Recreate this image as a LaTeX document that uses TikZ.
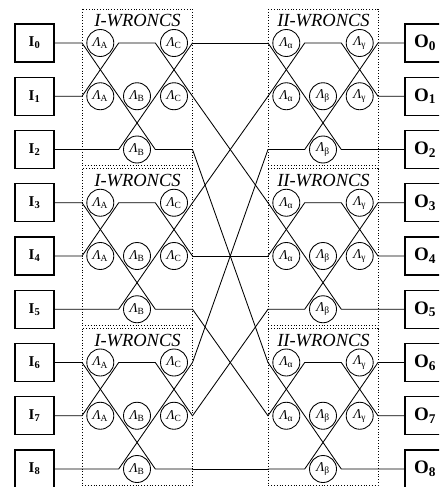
\documentclass[tikz,border=0pt]{standalone}
\usepackage{fontspec}
\setmainfont{Liberation Serif}
\usetikzlibrary{calc}
\newcommand\lamlab[1]{\textit{Λ}\textsubscript{#1}}
\begin{document}
\begin{tikzpicture}[x=1pt,y=-1pt,
  wire/.style={line width=0.85pt, line cap=round, line join=round},
  ibox/.style={draw, line width=1.2pt, minimum width=39pt, minimum height=38pt, inner sep=0pt,
    font=\fontsize{15}{15}\selectfont\bfseries},
  obox/.style={draw, line width=1.2pt, minimum width=40pt, minimum height=38pt, inner sep=0pt,
    font=\fontsize{19}{19}\selectfont\bfseries},
  lam/.style={draw, circle, line width=0.85pt, minimum size=27pt, inner sep=0pt,
    font=\fontsize{13.5}{13.5}\selectfont},
  blk/.style={draw, dotted, line width=0.8pt},
  ttl/.style={font=\fontsize{18.5}{18.5}\selectfont\itshape, inner sep=0pt}]
\useasboundingbox (0,0) rectangle (439,487);
\clip (0,0) rectangle (439,487);
\foreach \i in {0,...,8}{
  \pgfmathsetmacro\y{43+53.25*\i}
  \node[ibox] (I\i) at (34.5,\y) {I\textsubscript{\i}};
  \node[obox] (O\i) at (425,\y) {O\textsubscript{\i}};
  \foreach \n/\x in {L0/82,L1/118.7,L2/155.3,L3/192.5,R0/268,R1/304.7,R2/341.3,R3/378}
    \coordinate (\n-\i) at (\x,\y);
}
\foreach \k in {0,1,2}{
  \pgfmathtruncatemacro\a{3*\k}
  \pgfmathtruncatemacro\b{3*\k+1}
  \pgfmathtruncatemacro\c{3*\k+2}
  \pgfmathsetmacro\ya{43+53.25*\a}
  \pgfmathsetmacro\yb{43+53.25*\b}
  \pgfmathsetmacro\yc{43+53.25*\c}
  % first stage wires
  \draw[wire] (I\a.east) -- (L0-\a) -- (L2-\c) -- (L3-\c);
  \draw[wire] (I\b.east) -- (L0-\b) -- (L1-\a) -- (L2-\a) -- (L3-\b);
  \draw[wire] (I\c.east) -- (L1-\c) -- (L3-\a);
  % second stage wires
  \draw[wire] (R0-\a) -- (R2-\c) -- (O\c.west);
  \draw[wire] (R0-\b) -- (R1-\a) -- (R2-\a) -- (R3-\b) -- (O\b.west);
  \draw[wire] (R0-\c) -- (R1-\c) -- (R3-\a) -- (O\a.west);
  % blocks
  \draw[blk] (82,\ya-34) rectangle (192.5,\yc+16);
  \draw[blk] (268,\ya-34) rectangle (378,\yc+16);
  \node[ttl] (T1-\k) at (137.5,\ya-22) {I-WRONCS};
  \node[ttl] (T2-\k) at (323.5,\ya-22) {II-WRONCS};
  % switches
  \node[lam] (A1-\k) at (100.3,\ya) {\lamlab{A}};
  \node[lam] (A2-\k) at (100.3,\yb) {\lamlab{A}};
  \node[lam] (B1-\k) at (137,\yb) {\lamlab{B}};
  \node[lam] (B2-\k) at (137,\yc) {\lamlab{B}};
  \node[lam] (C1-\k) at (174,\ya) {\lamlab{C}};
  \node[lam] (C2-\k) at (174,\yb) {\lamlab{C}};
  \node[lam] (a1-\k) at (286.3,\ya) {\lamlab{α}};
  \node[lam] (a2-\k) at (286.3,\yb) {\lamlab{α}};
  \node[lam] (b1-\k) at (323,\yb) {\lamlab{β}};
  \node[lam] (b2-\k) at (323,\yc) {\lamlab{β}};
  \node[lam] (g1-\k) at (359.7,\ya) {\lamlab{γ}};
  \node[lam] (g2-\k) at (359.7,\yb) {\lamlab{γ}};
}
% interconnection between stages
\foreach \i/\j in {0/0,1/3,2/6,3/1,4/4,5/7,6/2,7/5,8/8}
  \draw[wire] (L3-\i) -- (R0-\j);
\end{tikzpicture}
\end{document}
